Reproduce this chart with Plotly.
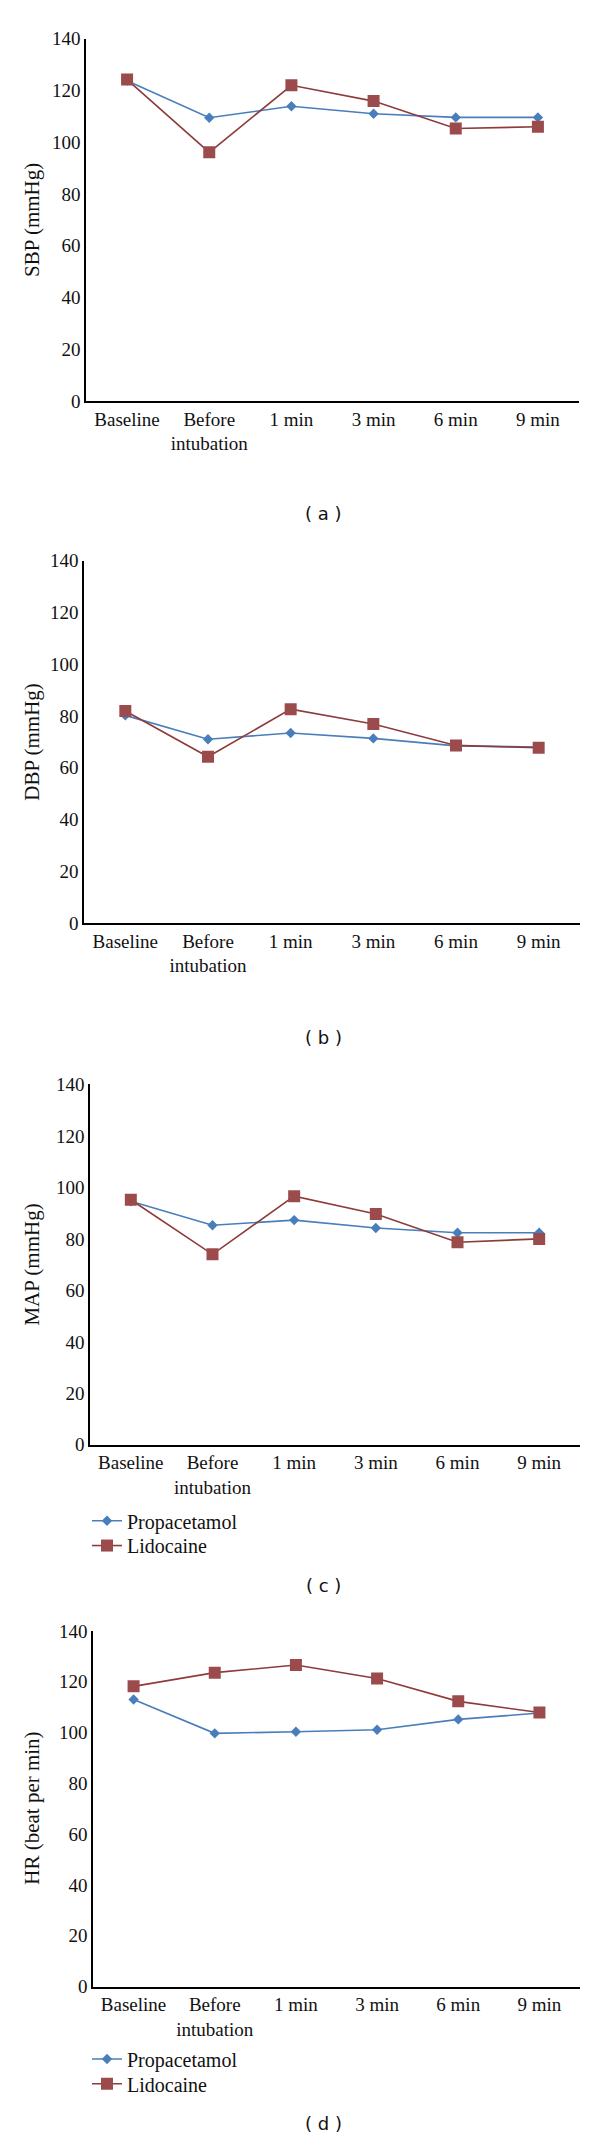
import plotly.graph_objects as go

W, H = 600, 2150

categories = ["Baseline", "Before<br>intubation", "1 min", "3 min", "6 min", "9 min"]
series_names = ["Propacetamol", "Lidocaine"]

sbp_propacetamol = [123.8, 109.5, 113.9, 111.0, 109.6, 109.6]
sbp_lidocaine = [124.2, 96.1, 122.0, 115.9, 105.3, 106.0]

dbp_propacetamol = [80.2, 71.0, 73.4, 71.3, 68.4, 68.0]
dbp_lidocaine = [81.9, 64.2, 82.6, 76.9, 68.6, 67.7]

map_propacetamol = [94.6, 85.3, 87.3, 84.2, 82.4, 82.4]
map_lidocaine = [95.2, 74.0, 96.6, 89.7, 78.7, 80.0]

hr_propacetamol = [113.0, 99.7, 100.3, 101.1, 105.2, 107.7]
hr_lidocaine = [118.2, 123.6, 126.6, 121.3, 112.3, 107.9]

y_titles = ["SBP (mmHg)", "DBP (mmHg)", "MAP (mmHg)", "HR (beat per min)"]
captions = ["( a )", "( b )", "( c )", "( d )"]
y_ticks = [0, 20, 40, 60, 80, 100, 120, 140]

panels = [
    (sbp_propacetamol, sbp_lidocaine),
    (dbp_propacetamol, dbp_lidocaine),
    (map_propacetamol, map_lidocaine),
    (hr_propacetamol, hr_lidocaine),
]

# layout (pixel boxes): x0, x1, ytop, ybottom
boxes = [
    (86, 579, 29, 395),
    (84, 580, 556, 922),
    (90, 580, 1085, 1449),
    (93, 580, 1637, 1996),
]
caption_y = [508, 1038, 1591, 2134]
# legend item centres (px) for panels c and d: (propacetamol, lidocaine)
legend_centres = {2: (1518.5, 1543.5), 3: (2062, 2087)}

BLUE = "#4A7EBB"
RED_LINE = "#8E3B3B"
RED_FILL = "#9B4B4B"
SERIF = "Liberation Serif, Times New Roman, serif"

fig = go.Figure()
layout = dict(
    width=W, height=H,
    margin=dict(l=0, r=0, t=0, b=0),
    paper_bgcolor="white", plot_bgcolor="white",
    annotations=[],
)

legend_names = {}
k = 0
for i in (2, 3):
    for j in (0, 1):
        k += 1
        legend_names[(i, j)] = "legend" if k == 1 else "legend" + str(k)

for i, ((prop, lido), (x0, x1, yt, yb)) in enumerate(zip(panels, boxes)):
    n = "" if i == 0 else str(i + 1)
    xa, ya = "x" + n, "y" + n
    for j, (vals, name) in enumerate(zip((prop, lido), series_names)):
        leg = legend_names.get((i, j))
        if j == 0:
            line = dict(color=BLUE, width=1.6)
            marker = dict(symbol="diamond", size=8, color=BLUE)
        else:
            line = dict(color=RED_LINE, width=1.6)
            marker = dict(symbol="square", size=12, color=RED_FILL)
        fig.add_trace(go.Scatter(
            x=categories, y=vals, name=name, xaxis=xa, yaxis=ya,
            mode="lines+markers", line=line, marker=marker,
            showlegend=leg is not None, legend=leg or "legend",
        ))
        if leg is not None:
            layout[leg] = dict(
                x=87 / W, y=1 - (legend_centres[i][j] - 12.5) / H,
                xanchor="left", yanchor="top",
                bgcolor="rgba(0,0,0,0)", borderwidth=0,
                font=dict(family=SERIF, size=20, color="#111"),
                itemwidth=30,
            )
    layout["xaxis" + n] = dict(
        domain=[x0 / W, x1 / W], anchor=ya, type="category",
        range=[-0.5, 5.5], showline=True, linecolor="black", linewidth=1.5,
        ticks="", showgrid=False, zeroline=False,
        tickfont=dict(family=SERIF, size=19, color="#111"),
    )
    layout["yaxis" + n] = dict(
        domain=[1 - yb / H, 1 - yt / H], anchor=xa,
        range=[0, 140], tickvals=y_ticks, showline=True, linecolor="black",
        linewidth=1.5, ticks="", showgrid=False, zeroline=False,
        tickfont=dict(family=SERIF, size=19, color="#111"),
    )
    layout["annotations"].append(dict(
        text=y_titles[i], xref="paper", yref="paper",
        x=32 / W, y=1 - (yt + yb) / 2 / H, xanchor="center", yanchor="middle",
        textangle=-90, showarrow=False,
        font=dict(family=SERIF, size=21, color="#111"),
    ))
    layout["annotations"].append(dict(
        text=captions[i], xref="paper", yref="paper",
        x=323 / W, y=1 - caption_y[i] / H, xanchor="center", yanchor="middle",
        showarrow=False,
        font=dict(family="DejaVu Sans, Verdana, sans-serif", size=18, color="#111"),
    ))

fig.update_layout(**layout)
fig.write_html(
    "out.html",
    config={"displayModeBar": False},
    post_script="document.body.style.margin='0';document.body.style.overflow='hidden';",
)
